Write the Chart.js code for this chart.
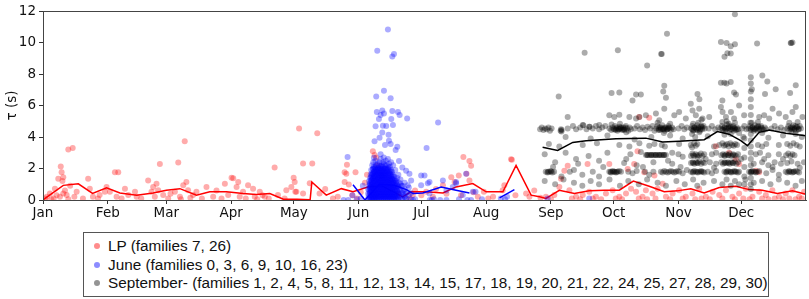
<!DOCTYPE html>
<html>
<head>
<meta charset="utf-8">
<script src="https://cdn.jsdelivr.net/npm/chart.js@4/dist/chart.umd.min.js"></script>
<style>
  html, body { margin: 0; padding: 0; background: #fff; }
  #wrap { position: relative; width: 809px; height: 299px; overflow: hidden; }
  #c { position: absolute; left: 0; top: 0; }
  #legend {
    position: absolute; left: 83px; top: 232px; width: 686px; height: 65px;
    border: 1px solid #555; background: #fff; box-sizing: border-box;
    font-family: "Liberation Sans", Arial, sans-serif; font-size: 15.3px; color: #111;
  }
  .row { position: absolute; left: 0; height: 18px; line-height: 18px; white-space: nowrap; }
  .dot { position: absolute; left: 10px; top: 6px; width: 6px; height: 6px; border-radius: 50%; }
  .lbl { position: absolute; left: 24px; top: 0; }
</style>
</head>
<body>
<div id="wrap">
  <canvas id="c" width="809" height="299"></canvas>
  <div id="legend"></div>
</div>
<script>
// ---- axis / labels ----
const monthTicks = [0, 31, 59, 90, 120, 151, 181, 212, 243, 273, 304, 334];
const monthLabels = ["Jan","Feb","Mar","Apr","May","Jun","Jul","Aug","Sep","Oct","Nov","Dec"];
const yTicks = [0, 2, 4, 6, 8, 10, 12];
const legendLabels = [
  "LP (families 7, 26)",
  "June (families 0, 3, 6, 9, 10, 16, 23)",
  "September- (families 1, 2, 4, 5, 8, 11, 12, 13, 14, 15, 17, 18, 19, 20, 21, 22, 24, 25, 27, 28, 29, 30)"
];

// ---- LP family events [day of year, tau] ----
const lpPoints = [
[1,0.1],[1.8,0.2],[3.3,0.41],[4,0.05],[5.1,0.1],[5.7,0.72],[6.5,0.3],[7.3,1.35],[8.1,0.2],[8.5,2.13],[8.9,1.76],[9.3,1.2],[9.7,1.45],[9.7,0.41],[10.5,0.6],[11.3,0.31],[12.1,3.21],[12.1,0.05],[13,0.9],[14.2,3.31],[15,0.2],[16.1,0.52],[19.1,0.1],[21.6,1.35],[22.4,0.72],[23.9,0.2],[26.3,0.1],[27.1,0.31],[29.6,0.52],[30.4,0.83],[32,0.52],[34.4,1.76],[35.2,0.2],[36,1.76],[37.6,0.1],[39.2,0.72],[40.8,0.31],[44,0.52],[44.8,0.2],[47,0.1],[50.3,1.24],[51.9,0.52],[52.7,0.83],[53.5,0.2],[54.3,1.04],[55.1,0.62],[55.9,2.28],[57.5,0.31],[59.9,0.1],[61,0.4],[63.1,0.52],[64.7,2.38],[65.5,0.2],[66,0.05],[67.1,0.93],[67.8,3.73],[68.6,1.14],[69.4,0.62],[70.5,0.15],[71.8,0.31],[73.4,0.52],[76,0.1],[78.2,0.83],[81.4,0.2],[83,0.6],[85.4,0.1],[87,1.04],[88.6,0.31],[90.2,1.41],[91,1.38],[92.6,0.83],[93.4,1.14],[94.1,0.2],[95.7,0.52],[97,0.1],[98.1,0.93],[100.5,0.72],[101.3,0.2],[102.5,0.05],[103.7,0.52],[105,0.3],[106.1,0.2],[108,0.1],[110.8,2.07],[112.4,0.31],[115.6,0.1],[116.4,0.62],[118.8,0.83],[119.9,1.41],[120.4,1.14],[120.7,0.52],[121.2,0.52],[122.5,4.55],[124.4,2.32],[124.4,0.41],[127.6,1.07],[128.8,2.32],[131.2,4.24],[132.3,0.41],[135,0.7],[138.7,0.1],[141,0.2],[144.3,1.76],[144.3,1.14],[145.1,1.66],[145.4,2.24],[146.3,0.99],[148,0.3],[149.5,1.76],[150.3,0.1],[152,0.5],[154,1.1],[155,1.6],[157,0.83],[157.8,3.1],[158.6,2.86],[159.4,2.69],[160,2.2],[162,1.5],[170,0.4],[175.3,0.1],[176.9,0.31],[178,0.6],[181,0.3],[183.3,0.52],[186.5,0.2],[188,0.7],[191.3,0.93],[193,0.4],[195.3,1.45],[196.9,1.14],[198.9,1.55],[200,0.3],[201.1,2.73],[202.6,1.66],[204,2.48],[204,1.24],[204.8,2.17],[206,0.5],[208,0.2],[210.9,0.52],[213,0.1],[215.3,0.2],[219.9,0.62],[220.7,0.93],[223.9,2.59],[224.3,2.55],[226,0.3],[231.1,0.41],[232.7,0.2],[235,0.6],[238,0.15],
[240.6,0.2],[244.6,0.31],[247,0.83],[247.8,1.35],[249.4,1.86],[251,2.17],[251.8,0.62],[255,0.2],[258.2,0.31],[260.5,2.28],[261.3,0.52],[264.5,0.2],[269.3,0.41],[270.9,2.28],[272.5,0.62],[275.7,0.2],[278.9,0.41],[279.7,1.97],[281.3,0.72],[282.8,2.28],[283.7,0.52],[284.4,3.1],[285.2,5.28],[286.8,0.2],[287.6,1.76],[288.4,0.62],[290,5.22],[291.6,0.41],[292.5,1.55],[294,0.72],[296.4,1.04],[298,0.2],[301.2,0.41],[304.3,0.62],[307.5,0.2],[310.7,0.41],[313.9,0.72],[317.1,0.2],[320.3,0.52],[321.9,3.42],[323.5,0.31],[326.7,0.62],[328.2,3.0],[329.8,0.2],[331.4,2.59],[333,2.28],[333,0.41],[336.2,0.72],[339.4,0.2],[341,1.86],[342.6,1.76],[342.6,0.52],[345.8,0.31],[348.9,0.62],[352.1,0.2],[355.3,0.41],[358.5,0.62],[361.7,0.2],[364.1,0.52],
[243,0.05],[253,0.1],[257,0.05],[263,0.1],[267,0.05],[274,0.1],[277,0.05],[285,0.1],[289,0.05],[293,0.1],[300,0.05],[306,0.1],[312,0.05],[315,0.1],[319,0.05],[325,0.1],[331,0.05],[335,0.1],[338,0.05],[344,0.1],[347,0.05],[350,0.1],[354,0.05],[357,0.1],[360,0.05],[363,0.1]
];

// ---- June family events: scattered [day, tau] ----
const junePoints = [
[145.7,2.73],[148,0.3],[150,0.05],[152,0.1],[153,0.9],[143.8,0],[146,0],
[158.3,2.69],[158.6,3.73],[159.1,4.68],[159.4,6.57],[159.7,5.59],[159.9,9.48],[160.7,5.14],[161,3.96],[161.5,5.4],[161.5,2.9],[162.3,5.69],[162.3,4.29],[162.6,4.72],[163.1,6.94],[163.1,5.5],[163.6,3.5],[164.2,4.7],[165,10.83],[165.3,4.14],[165.5,3.77],[166.3,6.46],[166.3,3.56],[166.6,5.14],[167.1,9.11],[167.1,5.65],[167.4,4.76],[167.9,9.27],[168.7,3.18],[169.5,3.39],[169.8,5.59],[170.3,2.48],[170.6,5.4],[171.9,2.07],[173.7,1.86],[174.2,5.18],[174.5,0.93],[175.3,1.66],[176.1,1.24],[180.9,0.93],[180.9,1.55],[182.5,1.55],[183.5,3.31],[184.1,1.07],[184.9,0.41],[184.9,1.14],[189,4.93],[191.3,1.24],[193,0.6],[196,0.83],[197.6,1.14],[197.6,1.07],[200.8,0.31],[202.4,1.66],[204.8,0],[205.6,0.52],[206.9,0.52],
[177,0],[178,0.05],[185,0],[186,0],[187,0.05],[190,0],[193,0],[199,0.05],[203,0],[210,0.05],[219,0.1],[221,0.05],[222,0.2],[241.4,0.1],[261.3,0.1]
];
// ---- June family dense burst: [day, taus at that day] ----
const juneBurst = [
[155.5,[0.1,0.4,0.7]],[156,[0.05,0.3,0.6,0.9,1.2]],[156.5,[0.2,0.5,0.8,1.0,1.4]],
[157,[0.1,0.3,0.6,0.9,1.2,1.5,1.9]],[157.5,[0.05,0.4,0.7,1.0,1.3,1.6,2.2]],[158,[0.2,0.5,0.8,1.1,1.4,1.7,2.0,2.4]],
[158.5,[0.1,0.35,0.65,0.95,1.25,1.55,1.85]],[159,[0.05,0.3,0.6,0.9,1.2,1.5,1.8,2.1,2.5]],[159.5,[0.2,0.45,0.75,1.05,1.35,1.65,1.95]],
[160,[0.1,0.4,0.7,1.0,1.3,1.6,1.9,2.3]],[160.5,[0.25,0.55,0.85,1.15,1.45,1.75,2.05]],[161,[0.05,0.35,0.65,0.95,1.25,1.55,1.85,2.4]],
[161.5,[0.2,0.5,0.8,1.1,1.4,1.7,2.0,2.6]],[162,[0.1,0.4,0.7,1.0,1.3,1.6,1.9,2.2]],[162.5,[0.25,0.55,0.85,1.15,1.45,1.75,2.1]],
[163,[0.05,0.35,0.65,0.95,1.25,1.55,1.85,2.3,2.7]],[163.5,[0.2,0.5,0.8,1.1,1.4,1.7,2.0]],[164,[0.1,0.4,0.7,1.0,1.3,1.6,1.95,2.5]],
[164.5,[0.25,0.55,0.85,1.15,1.45,1.8,2.2]],[165,[0.05,0.35,0.65,0.95,1.25,1.6,2.0,2.6]],[165.5,[0.2,0.5,0.8,1.1,1.4,1.75,2.3]],
[166,[0.1,0.4,0.7,1.0,1.3,1.7,2.1]],[166.5,[0.25,0.55,0.85,1.2,1.5,1.9,2.4]],[167,[0.05,0.35,0.65,1.0,1.35,1.8]],
[167.5,[0.2,0.5,0.8,1.15,1.6,2.2]],[168,[0.1,0.4,0.75,1.1,1.5]],[168.5,[0.25,0.6,0.95,1.3,1.9]],
[169,[0.05,0.4,0.8,1.2]],[169.5,[0.2,0.55,0.9,1.4]],[170,[0.1,0.45,0.85,1.6]],[171,[0.2,0.6,1.0,1.3]],
[172,[0.05,0.4,0.9]],[173,[0.2,0.7,1.1]],[174,[0.1,0.5]],[175,[0.3,0.8]],[176,[0.05,0.45]],
[156.25,[0.15,0.45,0.75,1.05]],[156.75,[0.1,0.35,0.65,0.95,1.25,1.6]],[157.25,[0.2,0.5,0.8,1.1,1.4,1.7]],[157.75,[0.15,0.45,0.75,1.05,1.35,1.65,1.95]],
[158.25,[0.05,0.35,0.6,0.9,1.2,1.5,1.8,2.1]],[158.75,[0.2,0.5,0.8,1.1,1.4,1.7,2.0]],[159.25,[0.15,0.4,0.7,1.0,1.3,1.6,1.9,2.2]],
[159.75,[0.05,0.35,0.65,0.95,1.25,1.55,1.85]],[160.25,[0.2,0.5,0.8,1.1,1.4,1.7,2.0]],[160.75,[0.1,0.4,0.7,1.0,1.3,1.6,1.9,2.2]],
[161.25,[0.2,0.5,0.8,1.1,1.4,1.7,2.0]],[161.75,[0.05,0.35,0.65,0.95,1.25,1.55,1.85,2.15]],[162.25,[0.2,0.5,0.8,1.1,1.4,1.7,2.0]],
[162.75,[0.1,0.4,0.7,1.0,1.3,1.6,1.9,2.4]],[163.25,[0.2,0.5,0.8,1.1,1.4,1.7,2.0]],[163.75,[0.05,0.35,0.65,0.95,1.25,1.55,1.85,2.2]],
[164.25,[0.2,0.5,0.8,1.1,1.4,1.7,2.0]],[164.75,[0.1,0.4,0.7,1.0,1.3,1.6,1.9]],[165.25,[0.2,0.5,0.8,1.1,1.4,1.7,2.1]],
[165.75,[0.05,0.35,0.65,0.95,1.25,1.55,1.9]],[166.25,[0.2,0.5,0.8,1.1,1.4,1.8]],[166.75,[0.1,0.4,0.7,1.0,1.3,1.6]],
[167.25,[0.2,0.5,0.8,1.1,1.5]],[167.75,[0.05,0.35,0.65,0.95,1.3]],[168.25,[0.2,0.5,0.85,1.2]],[168.75,[0.1,0.4,0.75,1.1]],
[169.25,[0.25,0.6,1.0]],[169.75,[0.1,0.45,0.8]],[170.5,[0.3,0.7,1.1]],[171.5,[0.1,0.5,0.9]],[172.5,[0.3,0.6]],[173.5,[0.05,0.4]]
];

// ---- September- family events [day, tau] ----
const sepPoints = [
[237.8,4.5],[238.6,4.6],[239.4,4.45],[240.2,4.55],[241,4.5],[241.8,4.6],[242.5,4.4],[243.3,4.55],
[247.6,4.4],[247.8,4.5],[248,4.35],[248.1,4.45],
[251,4.55],[253.5,4.7],[255,4.5],[257,4.6],[258.5,4.75],[260,4.5],[261.5,4.65],[263,4.55],[264.5,4.7],[266,4.5],[267.5,4.6],[269,4.7],
[271,4.55],[271.8,4.45],[272.5,4.6],[273,4.5],[273.6,4.7],[274.2,4.55],[274.8,4.4],[275.3,4.5],[275.9,4.65],[276.5,4.55],[277,4.45],[277.6,4.6],[278.2,4.5],[278.8,4.7],[279.4,4.55],[280,4.4],[280.6,4.6],[281.2,4.5],[272,4.8],[276,4.85],[279,4.3],
[283,4.55],[284.2,4.7],[285.5,4.5],[286.8,4.6],[288,4.45],[289.2,4.65],[290.4,4.55],[291.6,4.7],[292.5,4.4],
[293.3,4.55],[293.9,4.7],[294.5,4.45],[295,4.6],[295.6,4.5],[296.2,4.75],[296.8,4.55],[297.4,4.4],[298,4.6],[298.6,4.5],[299.2,4.7],[299.8,4.55],[300.4,4.45],[301,4.6],[301.6,4.5],[294,4.9],[297,4.25],[300,4.85],
[304,4.55],[305.5,4.7],[306.8,4.5],[308,4.6],
[310,4.55],[310.6,4.7],[311.2,4.45],[311.8,4.6],[312.4,4.5],[313,4.75],[313.6,4.55],[314.2,4.4],[314.8,4.65],[315.4,4.5],[316,4.7],[316.6,4.55],[310.5,4.2],[312,4.0],[313.5,4.9],[315,5.1],[311,4.85],[314,4.3],
[318.5,4.55],[320,4.7],[321.5,4.5],[323,4.6],
[324.2,4.55],[324.8,4.7],[325.4,4.45],[326,4.6],[326.6,4.5],[327.2,4.8],[327.8,4.55],[328.4,4.4],[329,4.65],[329.6,4.5],[330.2,4.7],[330.8,4.55],[331.4,4.45],[332,4.6],[332.6,4.5],[325,4.95],[327,5.0],[329,4.2],[331,4.9],[333,4.25],[326,4.15],[328,4.85],
[334.5,4.55],[335.5,4.7],[336.5,4.5],
[337.5,4.55],[338.1,4.7],[338.7,4.45],[339.3,4.6],[339.9,4.5],[340.5,4.75],[341.1,4.55],[341.7,4.4],[342.3,4.65],[342.9,4.5],[343.5,4.7],[344.1,4.55],[344.7,4.45],[345.3,4.6],[345.9,4.5],[339,4.9],[342,4.95],[344,4.25],
[348.5,4.55],[350,4.7],[351.5,4.5],[353,4.6],[354.5,4.45],
[356,4.55],[356.6,4.7],[357.2,4.45],[357.8,4.6],[358.4,4.5],[359,4.75],[359.6,4.55],[360.2,4.4],[360.8,4.65],[361.4,4.5],[362,4.7],[362.6,4.55],[357,4.9],[360,4.2],[361,4.95],
[251,5.28],[258.2,4.76],[261.3,4.66],[266.1,4.76],[270.9,5.38],[273.3,5.28],[275.7,5.42],[280.5,5.28],[283.7,5.18],[285.3,5.28],[288.4,5.38],[293.2,5.49],[294.8,5.07],[297.2,5.8],[302,5.38],[304.3,5.59],[307.5,5.18],[309.9,6.11],[310.7,5.69],[312.3,5.38],[313.9,5.8],[315.5,5.18],[318.7,5.28],[324.3,5.9],[325.1,5.59],[326.7,5.28],[329.1,5.59],[330.6,5.18],[333,6.0],[335.4,5.38],[342.6,5.28],[345,5.38],[347.4,5.18],[349,5.8],[352.1,5.49],[355.3,5.28],[358.5,5.59],[360.1,5.9],[363.3,5.28],
[246.7,6.57],[272,6.79],[275.7,6.83],[283.7,6.7],[286,6.7],[282,6.32],[297.2,7.25],[296.7,6.9],[298,6.5],[313.1,6.73],[314,6.4],[324.3,7.45],[325.9,7.45],[327,7.4],[329,7.5],[330.6,6.83],[331.5,6.7],[325,6.32],[339.1,7.04],[344.1,7.91],[346.5,7.53],[345.4,6.73],[350.5,7.04],[357.4,6.79],[360.1,7.29],
[331,11.8],[324.3,10.04],[327,9.98],[329,9.77],[331,9.9],[327.4,9.32],[329,9.3],[326,9.1],[341.6,9.94],[357.9,9.98],[357.7,9.98],[358.5,10.0],[298.5,10.56],[295.7,9.27],[296,9.27],[275,9.52],[259.1,9.36],[289,8.55],
[338.6,7.8],[338.6,7.4],[338.6,6.9],[338.6,6.4],[338.6,5.9],[338.6,5.4],[338.4,4.9],[338.6,4.2],[338.6,3.8],[338.6,3.4],[338.6,3.0],[338.6,2.6],[338.6,2.2],[338.6,1.8],[338.6,1.4],[338.6,1.0],[338.6,0.7],
[335.5,3.9],[335.5,3.3],[335.5,2.7],[335.5,2.1],[335.5,1.5],[335.5,1.0],
[242,3.55],[247,3.4],[258.2,3.5],[265,3.6],[275.7,3.5],[280.5,3.4],[285.3,3.6],[290,3.45],[292.5,3.55],[296,3.5],[297.5,3.4],[304.3,3.55],[309.9,3.5],[310.5,3.35],[311.5,3.6],[312.3,3.45],[313,3.55],[321,3.4],[323.5,3.5],[325,3.6],[325.8,3.45],[326.5,3.5],[327.3,3.55],[328,3.4],[328.8,3.6],[329.6,3.5],[330.4,3.45],[331.2,3.55],[332,3.5],[342,3.5],[344,3.4],[346,3.55],[352,3.5],[356,3.55],[357.5,3.45],[359,3.6],[360.5,3.5],[362,3.4],
[240,2.9],[250,3.0],[261,2.8],[270,3.0],[281,2.9],[286,3.05],
[288.4,2.86],[289.2,2.86],[290,2.86],[290.8,2.86],[291.6,2.86],[292.4,2.86],[293.2,2.86],[294,2.86],[294.8,2.86],[295.6,2.86],[296.4,2.86],[297.2,2.86],[298,2.86],
[301,3.0],[304,2.9],[306,2.75],
[310,2.8],[310.7,2.95],[311.5,2.8],[312.3,2.9],[313.1,2.75],[313.9,2.85],[314.7,2.95],[315.5,2.8],[316.3,2.9],
[320,2.9],[322,3.0],
[324.5,2.85],[325.3,2.9],[326.1,2.8],[326.9,2.9],[327.7,2.85],[328.5,2.95],[329.3,2.8],[330.1,2.9],[330.9,2.85],[331.7,2.8],[332.5,2.9],
[341,2.9],[343,3.0],[347,2.85],[352,2.9],[355.5,2.85],[356.5,2.95],[357.5,2.8],[358.5,2.9],[359.5,2.85],
[245,2.4],[256,2.3],[266,2.5],[278,2.35],[284,2.2],[292,2.4],[301,2.3],
[310,2.35],[310.8,2.4],[311.6,2.3],[312.4,2.4],[313.2,2.35],[314,2.45],[314.8,2.3],[315.6,2.4],[316.4,2.35],
[319,2.4],[322,2.3],
[324.5,2.4],[325.3,2.3],[326.1,2.4],[326.9,2.35],[327.7,2.4],[328.5,2.3],[329.3,2.4],[330.1,2.35],[330.9,2.45],[331.7,2.3],[332.5,2.4],
[340,2.3],[344,2.4],[347,2.2],[350,2.4],[353,2.3],[356,2.35],[358,2.45],[361,2.3],[364,2.4],
[240.5,1.8],[241.3,1.75],[242.1,1.8],[242.9,1.85],[243.7,1.75],[244.5,1.8],
[248,1.5],[252,1.8],[254,1.9],[258,1.6],[263,1.8],[266,1.5],
[270.9,1.8],[271.7,1.75],[272.5,1.85],[273.3,1.8],[274.1,1.75],[274.9,1.8],[275.7,1.85],[276.5,1.8],
[280,1.8],[282,1.7],[284,1.85],[288,1.8],[290,1.6],[292,1.8],
[295.6,1.8],[296.4,1.75],[297.2,1.85],[298,1.8],[298.8,1.75],[299.6,1.8],[300.4,1.85],[301.2,1.8],[302,1.75],[302.8,1.8],[303.6,1.85],[304.3,1.8],
[306,1.7],[308,1.9],
[310,1.8],[310.8,1.75],[311.6,1.85],[312.4,1.8],[313.2,1.75],[314,1.8],[314.8,1.85],[315.6,1.8],[316.3,1.75],
[318,1.8],[320,1.7],[322,1.85],
[326,1.8],[326.8,1.75],[327.6,1.85],[328.4,1.8],[329.2,1.75],[330,1.8],[330.8,1.85],[331.6,1.8],[332.4,1.75],[333,1.8],
[337.8,1.8],[338.6,1.75],[339.4,1.85],[340.2,1.8],[341,1.75],[341.8,1.8],[342.6,1.85],
[346,1.7],[349,1.9],[352,1.6],
[355.3,1.8],[356.1,1.75],[356.9,1.85],[357.7,1.8],[358.5,1.75],[359.3,1.8],[360.1,1.85],[360.9,1.8],[361.7,1.75],
[240,1.2],[245,1.0],[249,1.3],[254,1.1],[258,0.9],[262,1.2],[266,1.0],[271,1.3],[276,0.9],[280,1.2],[285,1.0],[289,1.3],[294,1.1],[298,0.9],[303,1.2],[307,1.0],[311,1.3],[313,0.9],[316,1.1],[321,1.2],[325,1.0],[327,1.3],[329,0.9],[331,1.2],[333,1.0],[336,1.3],[340,1.1],[344,1.2],[348,1.0],[352,1.3],[356,1.1],[360,0.9],[363,1.2],
[250,4.0],[262,3.9],[270,4.1],[283,3.85],[291,4.0],[300,4.1],[306,3.9],[318,4.05],[335,4.0],[347,3.95],[354,4.1],[363,4.0],
[244,2.1],[255,2.6],[268,2.1],[279,2.6],[287,2.1],[299,2.5],[305,2.1],[317,2.6],[321,2.05],[334,2.6],[345,2.6],[349,2.1],[354,2.6],[362,2.05]
];
// ---- September- family: repeated events in dense clusters [day, tau] ----
const sepClusters = [
[273.5,4.5],[274.5,4.6],[275.5,4.5],[276.5,4.6],[277.5,4.5],[278.5,4.6],[274,4.45],[276,4.55],[278,4.45],
[294.5,4.55],[295.5,4.6],[296.5,4.5],[297.5,4.6],[298.5,4.5],[299.5,4.6],[295,4.45],[297,4.5],[299,4.55],
[310.5,4.5],[311.5,4.6],[312.5,4.55],[313.5,4.6],[314.5,4.5],[315.5,4.6],[311,4.4],[313,4.45],[315,4.7],
[325,4.5],[326,4.6],[327,4.55],[328,4.6],[329,4.5],[330,4.6],[331,4.55],[332,4.5],[326.5,4.4],[328.5,4.7],[330.5,4.4],
[338.5,4.55],[339.5,4.6],[340.5,4.5],[341.5,4.6],[342.5,4.5],[343.5,4.6],[340,4.4],[342,4.7],
[357.5,4.55],[358.5,4.6],[359.5,4.5],[360.5,4.6],[361.5,4.5],[358,4.4],[360,4.7],
[289,2.86],[291,2.86],[293,2.86],[295,2.86],[297,2.86],
[271.5,1.8],[272.5,1.8],[273.5,1.8],[274.5,1.8],[327,1.8],[329,1.8],[331,1.8],[241.5,1.8],[243,1.8],[339,1.8],[341,1.8],[357,1.8],[359,1.8],[311,1.8],[313,1.8],[315,1.8],
[326,2.85],[328,2.85],[330,2.85],[326,2.35],[328,2.35],[330,2.35],[311,2.85],[313,2.85],[311,2.35],[313,2.35]
];

// ---- weekly median lines [day, tau]; null = gap ----
const lpLine = [[0,0],[2,0.2],[9.7,0.93],[16.9,1.03],[23.7,0.42],[30.4,0.77],[36.8,0.45],[44.8,0.31],[52.7,0.45],[59,0.62],[65.5,0.72],[73.4,0.31],[79.8,0.52],[87.8,0.52],[95.7,0.41],[102,0.35],[108.5,0.41],[115,0.05],[121.5,0.05],[127.8,0.02],[128.6,1.14],[135.5,0.31],[142.7,0.72],[148.3,0.52],[155.4,0.83],[162,0.9],[168,0.5],[172,0.2],[176,0.52],[183,0.52],[191.3,0.45],[197.6,0.83],[205.6,1.04],[212,0.52],[220,0.52],[226.3,2.2],[233.5,0.31],[237.5,0.2],[240.6,0.1],[247,0.62],[254.2,0.41],[261.3,0.58],[268.5,0.62],[275.7,0.62],[282.4,1.2],[290,0.87],[297.2,0.52],[303.5,0.58],[309.9,0.72],[316.3,0.45],[323.5,0.79],[331.4,0.87],[337.8,0.66],[344.1,0.62],[351.3,0.41],[358.5,0.58],[364.9,0.37]];
const juneLine = [[148.3,0.97],[154,0],[161,1.0],[168,0.93],[173.8,0.66],[177,0.41],[181.7,0.45],[190.5,0.83],[197.6,0.62],[204,0.45],[211,null],[218.4,0.14],[225.5,0.66]];
const sepLine = [[239,3.35],[246.2,3.15],[253.4,3.66],[259.8,3.77],[274.1,3.89],[288.4,3.93],[296.4,3.68],[304.3,3.73],[316.3,3.83],[322.6,4.35],[328.2,4.18],[333.8,3.77],[337,3.45],[342.6,4.3],[347.4,4.45],[355.3,4.24],[364.9,4.08]];

// ---- build ----
const toXY = a => a.map(p => ({x: p[0], y: p[1]}));
const juneAll = junePoints.concat(juneBurst.flatMap(c => c[1].map(t => [c[0], t])));
const sepAll = sepPoints.concat(sepClusters);
const C_LP = 'rgba(255,0,0,0.33)', C_JUNE = 'rgba(0,0,255,0.33)', C_SEP = 'rgba(0,0,0,0.33)';
const L_LP = 'rgba(255,0,0,0.45)', L_JUNE = 'rgba(0,0,255,0.45)', L_SEP = 'rgba(0,0,0,0.42)';

function scatterDs(data, color, order) {
  return { data: toXY(data), backgroundColor: color, borderWidth: 0, pointRadius: 3, pointHoverRadius: 3, showLine: false, order };
}
function lineDs(data, color, order) {
  return { data: toXY(data), borderColor: color, borderWidth: 1.5, pointRadius: 0, showLine: true, spanGaps: false, fill: false, order };
}

const frame = {
  id: 'frame',
  afterDraw(chart) {
    const {ctx, chartArea: a} = chart;
    ctx.save();
    ctx.strokeStyle = '#444';
    ctx.lineWidth = 1;
    ctx.strokeRect(Math.round(a.left) + 0.5, Math.round(a.top) + 0.5, Math.round(a.right - a.left) - 1, Math.round(a.bottom - a.top));
    ctx.restore();
  }
};

new Chart(document.getElementById('c'), {
  type: 'scatter',
  data: {
    datasets: [
      scatterDs(lpPoints, C_LP, 6),
      lineDs(lpLine, '#ff0000', 5),
      scatterDs(juneAll, C_JUNE, 4),
      lineDs(juneLine, '#0000ff', 3),
      scatterDs(sepAll, C_SEP, 2),
      lineDs(sepLine, '#000000', 1)
    ]
  },
  options: {
    responsive: false,
    animation: false,
    events: [],
    layout: { padding: { top: 6, right: 2, left: 0, bottom: 0 } },
    plugins: { legend: { display: false }, tooltip: { enabled: false } },
    scales: {
      x: {
        type: 'linear', min: 0, max: 365,
        afterBuildTicks: s => { s.ticks = monthTicks.map(v => ({value: v})); },
        afterFit: s => { s.height = 99; },
        ticks: {
          autoSkip: false, maxRotation: 0, padding: 1, color: '#111',
          font: { family: 'DejaVu Sans', size: 13.5 },
          callback: (v) => monthLabels[monthTicks.indexOf(v)]
        },
        grid: { drawOnChartArea: false, drawTicks: true, tickLength: 4, color: '#333' },
        border: { display: true, color: '#444' }
      },
      y: {
        min: 0, max: 12,
        afterBuildTicks: s => { s.ticks = yTicks.map(v => ({value: v})); },
        afterFit: s => { s.width = 43; },
        ticks: { padding: 3, color: '#111', font: { family: 'DejaVu Sans', size: 13.5 } },
        grid: { drawOnChartArea: false, drawTicks: true, tickLength: 4, color: '#333' },
        border: { display: true, color: '#444' },
        title: { display: true, text: 'τ (s)', color: '#111', font: { family: 'DejaVu Sans', size: 13.5 }, padding: { top: 4, bottom: 0 } }
      }
    }
  },
  plugins: [frame]
});

// ---- legend (HTML text) ----
const lg = document.getElementById('legend');
[L_LP, L_JUNE, L_SEP].forEach((col, i) => {
  const r = document.createElement('div');
  r.className = 'row';
  r.style.top = (4 + i * 18.5) + 'px';
  r.innerHTML = '<span class="dot" style="background:' + col + '"></span><span class="lbl"></span>';
  r.querySelector('.lbl').textContent = legendLabels[i];
  lg.appendChild(r);
});
</script>
</body>
</html>
